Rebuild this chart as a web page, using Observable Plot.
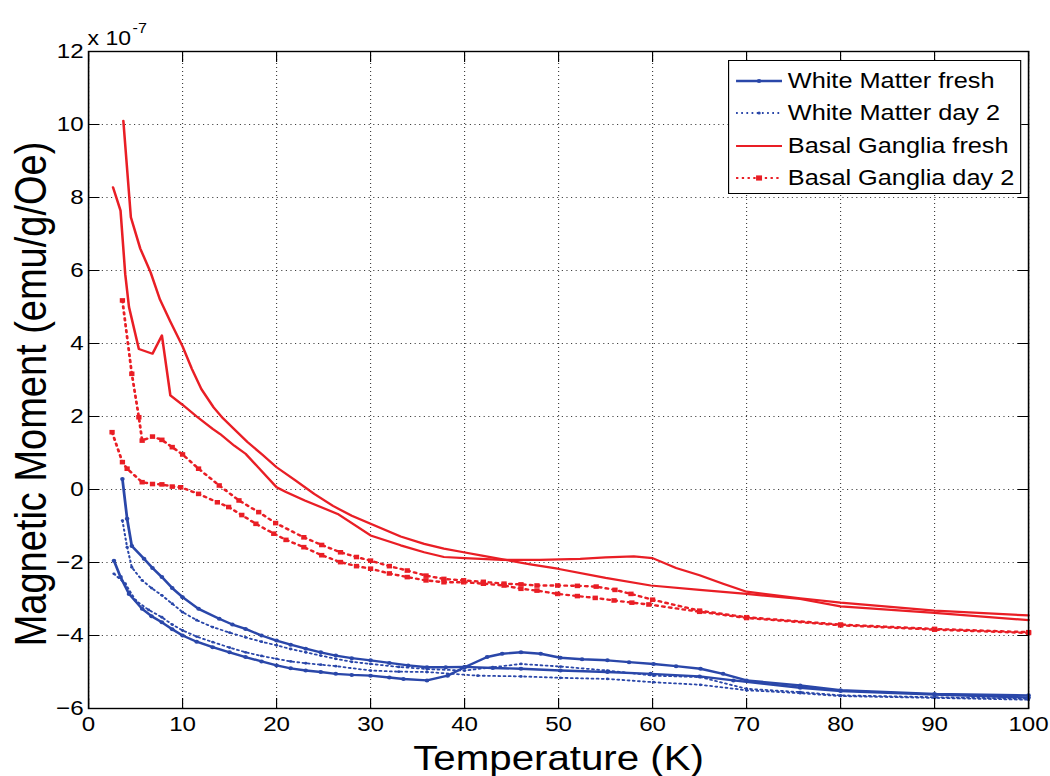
<!DOCTYPE html>
<html><head><meta charset="utf-8">
<script src="https://cdn.jsdelivr.net/npm/d3@7"></script>
<script src="https://cdn.jsdelivr.net/npm/@observablehq/plot@0.6"></script>
<style>
body{margin:0;background:#fff;}
#wrap{position:relative;width:1050px;height:776px;overflow:hidden;font-family:"Liberation Sans",Arial,sans-serif;background:#fff;}
#wrap svg{display:block;}
#legend{position:absolute;left:728px;top:60px;box-sizing:border-box;border:1.3px solid #000;background:#fff;transform-origin:0 0;}
.row{position:absolute;left:0;height:30px;display:flex;align-items:center;font-size:22px;color:#000;white-space:nowrap;}
.row svg{margin-left:6px;margin-right:5px;}
</style></head><body><div id="wrap"></div>
<script>
// ---- data (values in units of 1e-7 emu/g/Oe) ----
const xTicks = [0,10,20,30,40,50,60,70,80,90,100];
const yTicks = [-6,-4,-2,0,2,4,6,8,10,12];
const xLabel = "Temperature (K)";
const yLabel = "Magnetic Moment (emu/g/Oe)";
const seriesNames = ["White Matter fresh","White Matter day 2","Basal Ganglia fresh","Basal Ganglia day 2"];

const wmFreshA = [[3.6,0.29],[4.1,-0.8],[4.6,-1.55],[5.9,-1.9],[6.8,-2.15],[7.8,-2.4],[8.9,-2.7],[10,-2.95],[11.7,-3.27],[13.9,-3.54],[15.3,-3.7],[16.7,-3.82],[18.4,-4.0],[20,-4.14],[21.5,-4.25],[23.1,-4.36],[24.7,-4.46],[26.3,-4.55],[28,-4.62],[30,-4.68],[32,-4.75],[34,-4.82],[36,-4.87],[38,-4.87],[40,-4.86],[43,-4.89],[46,-4.91],[50.2,-4.96],[55.2,-5.0],[59.8,-5.05],[65,-5.12],[68.6,-5.23],[75.7,-5.43],[80,-5.52],[90,-5.62],[100,-5.7]];
const wmFreshB = [[2.7,-1.95],[3.4,-2.4],[4.3,-2.86],[5.7,-3.27],[6.7,-3.47],[7.8,-3.64],[8.9,-3.83],[10,-4.0],[11.5,-4.17],[13.2,-4.32],[15,-4.46],[16.7,-4.59],[18.4,-4.71],[20,-4.82],[21.5,-4.9],[23.1,-4.96],[24.7,-5.0],[26.3,-5.05],[28,-5.08],[30,-5.1],[32,-5.15],[33.5,-5.19],[36,-5.23],[38.2,-5.1],[40,-4.87],[42.4,-4.59],[44,-4.5],[46,-4.46],[48.1,-4.5],[50.2,-4.61],[52.5,-4.65],[55.2,-4.68],[57.5,-4.73],[60.1,-4.78],[62.5,-4.84],[65.1,-4.91],[67.5,-5.05],[70,-5.23],[75.7,-5.37],[80,-5.5],[90,-5.6],[100,-5.64]];
const wmDay2A = [[3.6,-0.85],[4.1,-1.58],[4.6,-2.13],[5.7,-2.49],[6.7,-2.7],[7.8,-2.9],[8.9,-3.13],[10,-3.36],[11.5,-3.58],[13.2,-3.77],[15,-3.92],[16.7,-4.05],[18.4,-4.17],[20,-4.27],[21.5,-4.37],[23.1,-4.46],[24.7,-4.55],[26.3,-4.64],[28,-4.72],[30,-4.78],[33,-4.86],[36,-4.92],[40,-4.96],[43,-4.87],[46,-4.78],[50.2,-4.85],[55.2,-4.96],[60.1,-5.1],[65.1,-5.14],[70,-5.46],[75.7,-5.55],[80,-5.64],[90,-5.69],[100,-5.73]];
const wmDay2B = [[2.7,-2.31],[3.9,-2.58],[5,-3.04],[6.4,-3.3],[7.8,-3.5],[8.9,-3.7],[10,-3.86],[11.5,-4.03],[13.2,-4.18],[15,-4.33],[16.7,-4.46],[18.4,-4.56],[20,-4.64],[21.5,-4.71],[23.1,-4.76],[24.7,-4.8],[26.3,-4.84],[30,-4.96],[33,-4.99],[36,-5.0],[41.4,-5.1],[46,-5.12],[50.2,-5.16],[55.2,-5.19],[60.1,-5.28],[65.1,-5.35],[70,-5.5],[75.7,-5.58],[80,-5.66],[90,-5.71],[100,-5.76]];
const bgFreshA = [[3.7,10.1],[4.5,7.46],[5.5,6.6],[6.6,5.95],[7.6,5.2],[8.7,4.6],[10,3.92],[11,3.3],[12,2.75],[13.3,2.25],[14.3,1.95],[15.5,1.65],[16.9,1.3],[18.5,0.95],[20,0.61],[22,0.25],[24,-0.12],[26,-0.45],[28,-0.72],[30,-0.94],[33.2,-1.29],[35.7,-1.49],[37.8,-1.62],[39.9,-1.72],[42,-1.82],[44.2,-1.92],[47,-2.05],[49.9,-2.17],[55,-2.42],[59.8,-2.63],[65,-2.75],[70,-2.86],[75.7,-3.0],[80,-3.2],[90,-3.38],[100,-3.58]];
const bgFreshB = [[2.6,8.28],[3.4,7.64],[3.9,5.9],[4.3,5.0],[5.35,3.85],[6.8,3.72],[7.8,4.22],[8.7,2.58],[10,2.32],[11.5,2.0],[13.2,1.66],[14,1.52],[15.5,1.2],[16.7,0.98],[18,0.62],[20,0.06],[21,-0.07],[23,-0.3],[26.5,-0.67],[30,-1.26],[33.2,-1.53],[35.7,-1.72],[37.8,-1.85],[40,-1.88],[44,-1.93],[48,-1.93],[52.3,-1.9],[55,-1.86],[58,-1.83],[60,-1.88],[62.5,-2.15],[65,-2.35],[67.5,-2.58],[70,-2.8],[75.7,-2.98],[80,-3.1],[90,-3.32],[100,-3.45]];
const bgDay2A = [[3.6,5.18],[4.6,3.17],[5.35,1.98],[5.7,1.34],[6.8,1.45],[7.8,1.36],[8.9,1.16],[10,0.96],[11.7,0.57],[13.9,0.11],[16,-0.3],[18.1,-0.62],[19.9,-0.92],[22.9,-1.31],[24.8,-1.52],[26.8,-1.72],[28.5,-1.85],[30,-1.95],[32,-2.1],[33.9,-2.22],[35.9,-2.36],[37.8,-2.45],[39.9,-2.49],[42,-2.53],[44.2,-2.58],[46,-2.6],[47.7,-2.63],[49.9,-2.63],[52,-2.64],[54,-2.66],[56,-2.75],[57.7,-2.86],[60,-3.02],[65,-3.32],[70,-3.5],[80,-3.7],[90,-3.82],[100,-3.91]];
const bgDay2B = [[2.5,1.57],[3.6,0.75],[4.1,0.57],[5.7,0.2],[6.8,0.15],[7.8,0.14],[8.9,0.08],[9.8,0.06],[11.7,-0.12],[13.7,-0.35],[14.9,-0.48],[16.3,-0.7],[17.8,-0.94],[19.7,-1.21],[21,-1.38],[22.9,-1.58],[24.8,-1.8],[26.8,-1.99],[28.5,-2.1],[30,-2.17],[32,-2.3],[33.9,-2.4],[35.9,-2.49],[37.8,-2.54],[39.9,-2.54],[42,-2.58],[44.2,-2.63],[46,-2.72],[47.7,-2.77],[49.9,-2.86],[52,-2.92],[53.9,-2.97],[55.9,-3.04],[57.8,-3.1],[59.6,-3.15],[65,-3.35],[70,-3.52],[80,-3.72],[90,-3.84],[100,-3.93]];

// ---- styling ----
const S = 1.15;           // the reference figure is stretched horizontally
const W = 1050 / S;
const BLUE = "#2a47a9", RED = "#e91e25";
const FONT = "'Liberation Sans', Arial, sans-serif";
const X = d => d[0], Y = d => d[1];

function lineMarks(data, o) {
  const m = [Plot.line(data, {x: X, y: Y, stroke: o.color, strokeWidth: o.sw, strokeDasharray: o.dash, strokeLinejoin: "round"})];
  if (o.r) m.push(Plot.dot(data, {x: X, y: Y, fill: o.color, r: o.r, symbol: o.symbol || "circle", stroke: "none"}));
  return m;
}

const chart = Plot.plot({
  width: W, height: 776,
  marginLeft: 88 / S, marginRight: 22 / S, marginTop: 51, marginBottom: 68,
  x: {domain: [0, 100]},
  y: {domain: [-6, 12]},
  style: {fontFamily: FONT, background: "white", color: "black"},
  marks: [
    Plot.gridX(xTicks, {stroke: "#000", strokeOpacity: 0.75, strokeDasharray: "1,3"}),
    Plot.gridY(yTicks, {stroke: "#000", strokeOpacity: 0.75, strokeDasharray: "1,3"}),
    ...lineMarks(wmDay2A, {color: BLUE, sw: 1.8, dash: "1.5,3", r: 1.4}),
    ...lineMarks(wmDay2B, {color: BLUE, sw: 1.8, dash: "1.5,3", r: 1.4}),
    ...lineMarks(wmFreshA, {color: BLUE, sw: 2.4, r: 2}),
    ...lineMarks(wmFreshB, {color: BLUE, sw: 2.4, r: 2}),
    ...lineMarks(bgDay2A, {color: RED, sw: 2.4, dash: "2,4", r: 2.6, symbol: "square"}),
    ...lineMarks(bgDay2B, {color: RED, sw: 2.4, dash: "2,4", r: 2.6, symbol: "square"}),
    ...lineMarks(bgFreshA, {color: RED, sw: 2.2}),
    ...lineMarks(bgFreshB, {color: RED, sw: 2.2}),
    Plot.frame({stroke: "#000", strokeWidth: 1.4}),
    Plot.axisX(xTicks, {anchor: "bottom", tickSize: -10, fill: "none", stroke: "#000", label: null}),
    Plot.axisX(xTicks, {anchor: "top", tickSize: -10, fill: "none", stroke: "#000", label: null}),
    Plot.axisY(yTicks, {anchor: "left", tickSize: -10, fill: "none", stroke: "#000", label: null}),
    Plot.axisY(yTicks, {anchor: "right", tickSize: -10, fill: "none", stroke: "#000", label: null}),
    Plot.axisX(xTicks, {anchor: "bottom", tickSize: 0, tickPadding: 8, fontSize: 21, fill: "#000", label: null}),
    Plot.axisY(yTicks, {anchor: "left", tickSize: 0, tickPadding: 5 / S, fontSize: 21, fill: "#000", label: null}),
    Plot.text([xLabel], {frameAnchor: "bottom", dy: 61, fontSize: 35, fill: "#000"}),
    Plot.text([yLabel], {frameAnchor: "left", textAnchor: "middle", dx: -57 / S, dy: 14, rotate: -90, fontSize: 38, fill: "#000"}),
    Plot.text(["x 10"], {frameAnchor: "top-left", textAnchor: "start", lineAnchor: "bottom", dx: -1 / S, dy: -7, fontSize: 20, fill: "#000"}),
    Plot.text(["-7"], {frameAnchor: "top-left", textAnchor: "start", lineAnchor: "bottom", dx: 44 / S, dy: -19, fontSize: 14, fill: "#000"})
  ]
});
chart.setAttribute("width", 1050);
chart.setAttribute("height", 776);
chart.setAttribute("viewBox", `0 0 ${W} 776`);
chart.setAttribute("preserveAspectRatio", "none");
chart.style.width = "1050px";
chart.style.height = "776px";
chart.style.maxWidth = "none";
const wrap = document.getElementById("wrap");
wrap.appendChild(chart);

// ---- legend ----
const legendStyles = [
  {color: BLUE, dash: null, sw: 2.4, marker: "circle", mr: 2},
  {color: BLUE, dash: "1.5,3", sw: 1.8, marker: "circle", mr: 1.5},
  {color: RED, dash: null, sw: 2.2, marker: null},
  {color: RED, dash: "2,3", sw: 2.2, marker: "square", mr: 2.6}
];
const lg = document.createElement("div");
lg.id = "legend";
lg.style.width = (293 / S) + "px";
lg.style.height = "134px";
lg.style.transform = `scaleX(${S})`;
seriesNames.forEach((name, i) => {
  const st = legendStyles[i];
  const row = document.createElement("div");
  row.className = "row";
  row.style.top = (5 + 32.4 * i) + "px";
  const sw = 40;
  let mk = "";
  if (st.marker === "circle") mk = `<circle cx="${sw/2}" cy="15" r="${st.mr}" fill="${st.color}"/>`;
  if (st.marker === "square") mk = `<rect x="${sw/2-st.mr}" y="${15-st.mr}" width="${2*st.mr}" height="${2*st.mr}" fill="${st.color}"/>`;
  row.innerHTML = `<svg width="${sw}" height="30"><line x1="0" x2="${sw}" y1="15" y2="15" stroke="${st.color}" stroke-width="${st.sw}" ${st.dash ? `stroke-dasharray="${st.dash}"` : ""}/>${mk}</svg><span>${name}</span>`;
  lg.appendChild(row);
});
wrap.appendChild(lg);
</script></body></html>
